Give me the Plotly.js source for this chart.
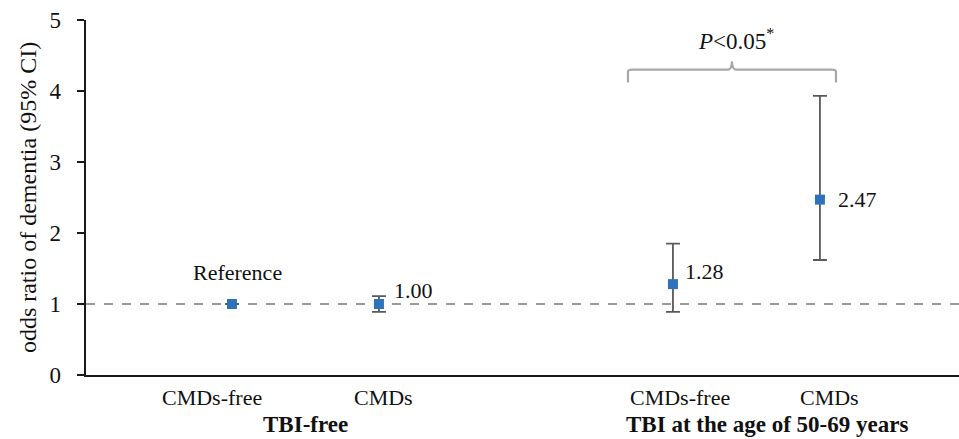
<!DOCTYPE html>
<html><head><meta charset="utf-8">
<script src="https://cdn.plot.ly/plotly-3.0.1.min.js"></script>
<style>html,body{margin:0;padding:0;background:#fff}#c{width:959px;height:439px}</style>
</head><body><div id="c"></div>
<script>
// Data
const groups = ["TBI-free", "TBI-free", "TBI at the age of 50-69 years", "TBI at the age of 50-69 years"];
const subgroups = ["CMDs-free", "CMDs", "CMDs-free", "CMDs"];
const oddsRatio = [1.00, 1.00, 1.28, 2.47];
const ciLower = [1.00, 0.89, 0.89, 1.62];
const ciUpper = [1.00, 1.11, 1.85, 3.93];
const pointLabels = ["Reference", "1.00", "1.28", "2.47"];
const yTicks = [0, 1, 2, 3, 4, 5];
const pText = "<i>P</i><0.05<sup>*</sup>";

// category keys, with a spacer between groups
const keys = subgroups.map((s, i) => groups[i] + " | " + s);
const catOrder = [keys[0], keys[1], "spacer", keys[2], keys[3]];
const idx = k => catOrder.indexOf(k);

const font = "Liberation Serif";
const ink = "#111";

const showCI = ciLower.map((l, i) => !(l === oddsRatio[i] && ciUpper[i] === oddsRatio[i]));
const trace = {
  type: "scatter", mode: "markers",
  x: keys, y: oddsRatio,
  marker: {symbol: "square", size: 10, color: "#2e72bd"},
  error_y: {
    type: "data", symmetric: false,
    array: ciUpper.map((u, i) => showCI[i] ? u - oddsRatio[i] : 0),
    arrayminus: ciLower.map((l, i) => showCI[i] ? oddsRatio[i] - l : 0),
    color: "#5a5a5a", thickness: 1.8, width: 7, visible: true
  },
  hoverinfo: "none", showlegend: false, cliponaxis: false
};

const annotations = [];
// point labels
const labelShift = [[6, 32], [13, 14], [10, 13], [16, 0]]; // [xshift, yshift] styling
pointLabels.forEach((t, i) => {
  const a = {x: keys[i], y: oddsRatio[i], xref: "x", yref: "y", text: t, showarrow: false,
    yanchor: "middle", xshift: labelShift[i][0], yshift: labelShift[i][1],
    font: {family: font, size: 22, color: ink}};
  a.xanchor = i === 0 ? "center" : "left";
  annotations.push(a);
});
// subgroup labels
const subShift = [-20, 5, 7, 10];
subgroups.forEach((s, i) => {
  annotations.push({x: keys[i], y: 0, xref: "x", yref: "paper", text: s, showarrow: false,
    yanchor: "middle", yshift: -22, xshift: subShift[i], font: {family: font, size: 22, color: ink}});
});
// group labels
const uniqueGroups = [...new Set(groups)];
const groupShift = [0, 21];
uniqueGroups.forEach((g, gi) => {
  const members = keys.filter((k, i) => groups[i] === g).map(idx);
  const mid = (Math.min(...members) + Math.max(...members)) / 2;
  annotations.push({x: mid, y: 0, xref: "x", yref: "paper", text: "<b>" + g + "</b>", showarrow: false,
    yanchor: "middle", yshift: -49, xshift: groupShift[gi], font: {family: font, size: 23, color: ink}});
});
// bracket between the two TBI-age groups
const bx0 = idx(keys[2]) - 0.306, bx1 = idx(keys[3]) + 0.109, bmid = (bx0 + bx1) / 2;
annotations.push({x: bmid, y: 4.72, xref: "x", yref: "y", text: pText, showarrow: false,
  yanchor: "middle", xshift: 4, font: {family: font, size: 23, color: ink}});

const by = 4.30, bend = 4.12, btop = 4.44;
const shapes = [
  {type: "line", xref: "paper", yref: "y", x0: 0, x1: 1, y0: 1, y1: 1,
   line: {color: "#9a9a9a", width: 1.8, dash: "dash"}, layer: "below"},
  {type: "path", xref: "x", yref: "y",
   path: `M ${bx0} ${bend} L ${bx0} ${by - 0.03} Q ${bx0} ${by} ${bx0 + 0.03} ${by} L ${bmid - 0.03} ${by} Q ${bmid} ${by} ${bmid} ${btop - 0.02} Q ${bmid} ${by} ${bmid + 0.03} ${by} L ${bx1 - 0.03} ${by} Q ${bx1} ${by} ${bx1} ${by - 0.03} L ${bx1} ${bend}`,
   line: {color: "#a8a8a8", width: 2.2}}
];

const layout = {
  width: 959, height: 439,
  margin: {l: 86, r: 0, t: 20, b: 64},
  paper_bgcolor: "#fff", plot_bgcolor: "#fff",
  showlegend: false,
  xaxis: {
    type: "category", categoryorder: "array", categoryarray: catOrder,
    range: [-0.993, 4.946], showticklabels: false,
    showgrid: false, zeroline: false, showline: true, linecolor: "#1a1a1a", linewidth: 2,
    ticks: "", fixedrange: true
  },
  yaxis: {
    range: [0, 5], tickvals: yTicks, ticktext: yTicks.map(v => v + "\u00a0\u00a0"),
    showgrid: false, zeroline: false, showline: true, linecolor: "#1a1a1a", linewidth: 2,
    ticks: "outside", ticklen: 7, tickcolor: "#1a1a1a", tickwidth: 1.6,
    tickfont: {family: font, size: 23, color: ink},
    title: {text: "odds ratio of dementia (95% CI)", font: {family: font, size: 24, color: ink}, standoff: 6},
    fixedrange: true
  },
  annotations: annotations,
  shapes: shapes
};
Plotly.newPlot("c", [trace], layout, {displayModeBar: false, staticPlot: true});
</script></body></html>
